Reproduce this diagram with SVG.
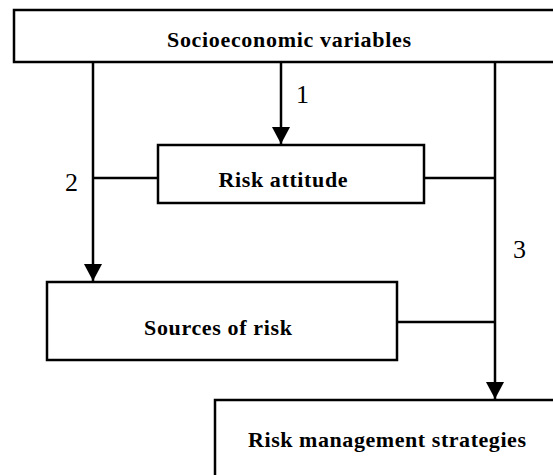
<svg xmlns="http://www.w3.org/2000/svg" width="553" height="475" viewBox="0 0 553 475">
<style>
.box{fill:#fff;stroke:#000;stroke-width:2.5}
.lbl{font-family:"Liberation Serif","Times New Roman",serif;font-weight:bold;font-size:22px;fill:#000;text-anchor:middle}
.num{font-family:"Liberation Serif","Times New Roman",serif;font-size:26px;fill:#000}
.ln{stroke:#000;stroke-width:2.5;fill:none}
</style>
<defs>
<marker id="ah" markerUnits="userSpaceOnUse" markerWidth="18" markerHeight="18" viewBox="0 0 18 18" refX="17" refY="9" orient="auto">
<path d="M0,0 L17,9 L0,18 Z" fill="#000"/>
</marker>
</defs>
<rect width="553" height="475" fill="#fff"/>
<g id="connectors">
<line class="ln" x1="93" y1="62" x2="93" y2="281" marker-end="url(#ah)"/>
<line class="ln" x1="93" y1="178" x2="158" y2="178"/>
<line class="ln" x1="281" y1="62" x2="281" y2="144" marker-end="url(#ah)"/>
<line class="ln" x1="495" y1="62" x2="495" y2="399" marker-end="url(#ah)"/>
<line class="ln" x1="424" y1="178" x2="495" y2="178"/>
<line class="ln" x1="397" y1="322" x2="495" y2="322"/>
<text class="num" x="296" y="103">1</text>
<text class="num" x="65" y="191">2</text>
<text class="num" x="513" y="258">3</text>
</g>
<g id="socio">
<rect class="box" x="14" y="10" width="560" height="52"/>
<text class="lbl" x="289" y="47" textLength="244" lengthAdjust="spacing">Socioeconomic variables</text>
</g>
<g id="attitude">
<rect class="box" x="158" y="145" width="266" height="58"/>
<text class="lbl" x="283" y="187" textLength="129" lengthAdjust="spacing">Risk attitude</text>
</g>
<g id="sources">
<rect class="box" x="47" y="282" width="350" height="78"/>
<text class="lbl" x="218" y="335" textLength="148" lengthAdjust="spacing">Sources of risk</text>
</g>
<g id="strategies">
<rect class="box" x="215" y="400" width="360" height="90"/>
<text class="lbl" x="387" y="447" textLength="278" lengthAdjust="spacing">Risk management strategies</text>
</g>
</svg>
